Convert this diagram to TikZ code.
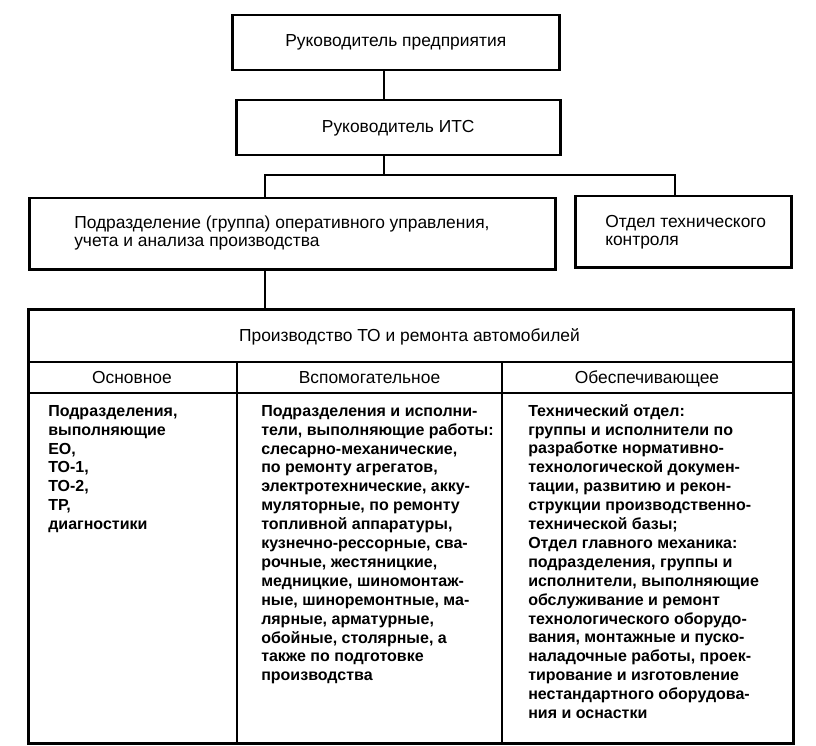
\documentclass[tikz,border=0pt]{standalone}
\usepackage{fontspec}
\setmainfont{Liberation Sans}
\begin{document}
\begin{tikzpicture}[x=1pt,y=-1pt,line width=2.5pt,
  box/.style={draw,line width=2.5pt,inner sep=0pt,anchor=north west},
  toptext/.style={font=\fontsize{17.4}{18.5}\selectfont},
  headtext/.style={font=\fontsize{17.4}{18.5}\selectfont,anchor=base,inner sep=0pt},
  celltext/.style={font=\bfseries\fontsize{16}{18.9}\selectfont,align=left,anchor=north west,inner sep=0pt},
  link/.style={draw,line width=2.5pt}]
\useasboundingbox (0,0) rectangle (816,746);
% top boxes
\node[box,toptext,minimum width=327pt,minimum height=55pt] (b1) at (231,14) {Руководитель предприятия};
\node[box,toptext,minimum width=324pt,minimum height=55pt] (b2) at (235,99) {Руководитель ИТС};
\node[box,minimum width=526pt,minimum height=71pt] (b3) at (28,197) {};
\node[toptext,align=left,anchor=west,inner sep=0pt] (t3) at (73,233) {Подразделение (группа) оперативного управления,\\учета и анализа производства};
\node[box,minimum width=216pt,minimum height=71pt] (b4) at (574,195) {};
\node[toptext,align=left,anchor=west,inner sep=0pt] (t4) at (604,232) {Отдел технического\\контроля};
% table
\node[box,minimum width=765pt,minimum height=434pt] (tab) at (27,308) {};
\coordinate (r1) at (0,362);
\coordinate (r2) at (0,393);
\coordinate (c1) at (237,0);
\coordinate (c2) at (502,0);
\draw (tab.west |- r1) -- (tab.east |- r1);
\draw (tab.west |- r2) -- (tab.east |- r2);
\draw (c1 |- r1) -- (c1 |- tab.south);
\draw (c2 |- r1) -- (c2 |- tab.south);
\node[headtext] (title) at (409.5,341) {Производство ТО и ремонта автомобилей};
\node[headtext] (h1) at (132,383) {Основное};
\node[headtext] (h2) at (369.5,383) {Вспомогательное};
\node[headtext] (h3) at (647,383) {Обеспечивающее};
\node[celltext] (k1) at (47,404) {Подразделения,\\выполняющие\\ЕО,\\ТО-1,\\ТО-2,\\ТР,\\диагностики};
\node[celltext] (k2) at (260,404) {Подразделения и исполни-\\тели, выполняющие работы:\\слесарно-механические,\\по ремонту агрегатов,\\электротехнические, акку-\\муляторные, по ремонту\\топливной аппаратуры,\\кузнечно-рессорные, сва-\\рочные, жестяницкие,\\медницкие, шиномонтаж-\\ные, шиноремонтные, ма-\\лярные, арматурные,\\обойные, столярные, а\\также по подготовке\\производства};
\node[celltext] (k3) at (527,403) {Технический отдел:\\группы и исполнители по\\разработке нормативно-\\технологической докумен-\\тации, развитию и рекон-\\струкции производственно-\\технической базы;\\Отдел главного механика:\\подразделения, группы и\\исполнители, выполняющие\\обслуживание и ремонт\\технологического оборудо-\\вания, монтажные и пуско-\\наладочные работы, проек-\\тирование и изготовление\\нестандартного оборудова-\\ния и оснастки};
% connectors
\coordinate (ax) at (384,0);
\coordinate (br) at (0,175);
\coordinate (x3) at (265,0);
\coordinate (x4) at (675,0);
\draw[link] (b1.south -| ax) -- (b2.north -| ax);
\draw[link] (b2.south -| ax) -- (ax |- br);
\draw[link] (b3.north -| x3) -- (x3 |- br) -- (x4 |- br) -- (b4.north -| x4);
\draw[link] (b3.south -| x3) -- (tab.north -| x3);
\end{tikzpicture}
\end{document}
